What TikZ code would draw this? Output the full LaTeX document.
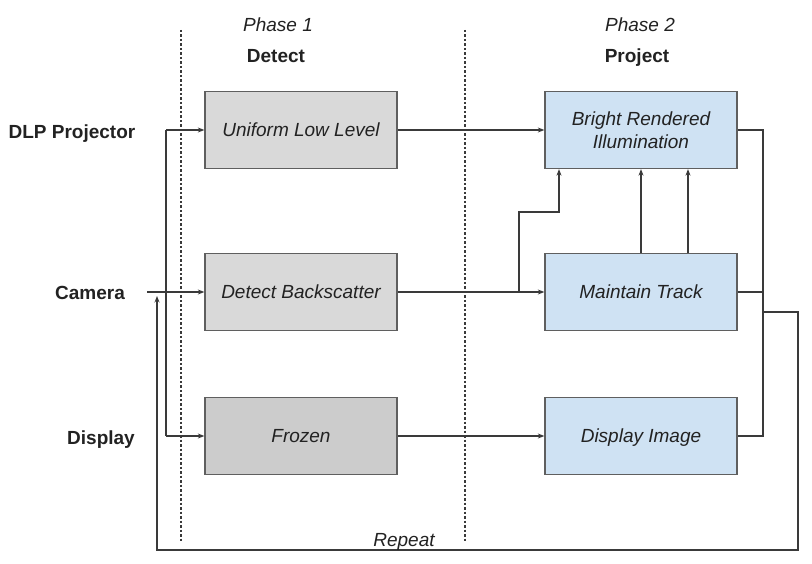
\documentclass[tikz,border=0pt]{standalone}
\usepackage{fontspec}
\setmainfont{Liberation Sans}
\usetikzlibrary{arrows.meta}
\definecolor{txt}{HTML}{222222}
\definecolor{ln}{HTML}{3A3A3A}
\definecolor{bord}{HTML}{5F5F5F}
\definecolor{grayfill}{HTML}{D9D9D9}
\definecolor{darkfill}{HTML}{CCCCCC}
\definecolor{bluefill}{HTML}{CFE2F3}
\tikzset{
  base/.style={font=\fontsize{19}{23}\selectfont, text=txt},
  box/.style={base, draw=bord, line width=1.3pt, minimum width=192pt, minimum height=77pt, align=center, text depth=0pt, font=\fontsize{19}{23}\selectfont\itshape},
  gbox/.style={box, fill=grayfill},
  dbox/.style={box, fill=darkfill},
  bbox/.style={box, fill=bluefill},
  lbl/.style={base, font=\fontsize{19}{23}\selectfont\bfseries, anchor=base},
  ph/.style={base, font=\fontsize{19}{23}\selectfont\itshape, anchor=base},
  conn/.style={draw=ln, line width=1.3pt},
  arr/.style={conn, -{Stealth[length=6.5pt,width=5pt]}},
  phase/.style={draw=ln, line width=1.3pt, dash pattern=on 2.5pt off 2pt}
}
\begin{document}
\begin{tikzpicture}[x=1pt,y=-1pt]
\useasboundingbox (0,0) rectangle (812,564);
% phase separators
\coordinate (d1t) at (181,30); \coordinate (d1b) at (181,542);
\coordinate (d2t) at (465,30); \coordinate (d2b) at (465,542);
\draw[phase] (d1t) -- (d1b);
\draw[phase] (d2t) -- (d2b);
% headers
\node[ph] (p1) at (278,32) {Phase 1};
\node[ph] (p2) at (640,32) {Phase 2};
\node[lbl] (h1) at (276,63) {Detect};
\node[lbl] (h2) at (637,63) {Project};
% row labels
\node[lbl] (dlp) at (72,139) {DLP Projector};
\node[lbl] (cam) at (90,300) {Camera};
\node[lbl] (dsp) at (101,444) {Display};
% boxes
\node[gbox] (ulow) at (301,130) {Uniform Low Level};
\node[gbox] (detb) at (301,292) {Detect Backscatter};
\node[dbox] (froz) at (301,436) {Frozen};
\node[bbox] (bri) at (641,130) {Bright Rendered\\Illumination};
\node[bbox] (mt) at (641,292) {Maintain Track};
\node[bbox] (disp) at (641,436) {Display Image};
% left distribution
\coordinate (cs) at (147,292);
\coordinate (j1) at (166,130);
\coordinate (j2) at (166,436);
\draw[conn] (j1) -- (j2);
\draw[arr] (j1) -- (ulow.west);
\draw[arr] (j2) -- (froz.west);
\draw[arr] (cs) -- (detb.west);
% middle
\draw[arr] (ulow.east) -- (bri.west);
\draw[arr] (detb.east) -- (mt.west);
\draw[arr] (froz.east) -- (disp.west);
\coordinate (br) at (519,292);
\coordinate (bu) at (559,212);
\draw[arr] (br) |- (bu) -- (bu |- bri.south);
\coordinate (m2) at (688,253.5);
\draw[arr] (mt.north) -- (bri.south);
\draw[arr] (m2) -- (m2 |- bri.south);
% right bus and repeat loop
\coordinate (bt) at (763,130);
\coordinate (bb) at (763,436);
\coordinate (rp) at (763,312);
\coordinate (rc1) at (798,312);
\coordinate (rc2) at (798,550);
\coordinate (rc3) at (157,550);
\coordinate (rc4) at (157,296);
\draw[conn] (bri.east) -- (bt) -- (bb) -- (disp.east);
\draw[conn] (mt.east) -- (mt.east -| bt);
\draw[arr] (rp) -- (rc1) -- (rc2) -- (rc3) -- (rc4);
\node[ph] (rep) at (404,546) {Repeat};
\end{tikzpicture}
\end{document}
